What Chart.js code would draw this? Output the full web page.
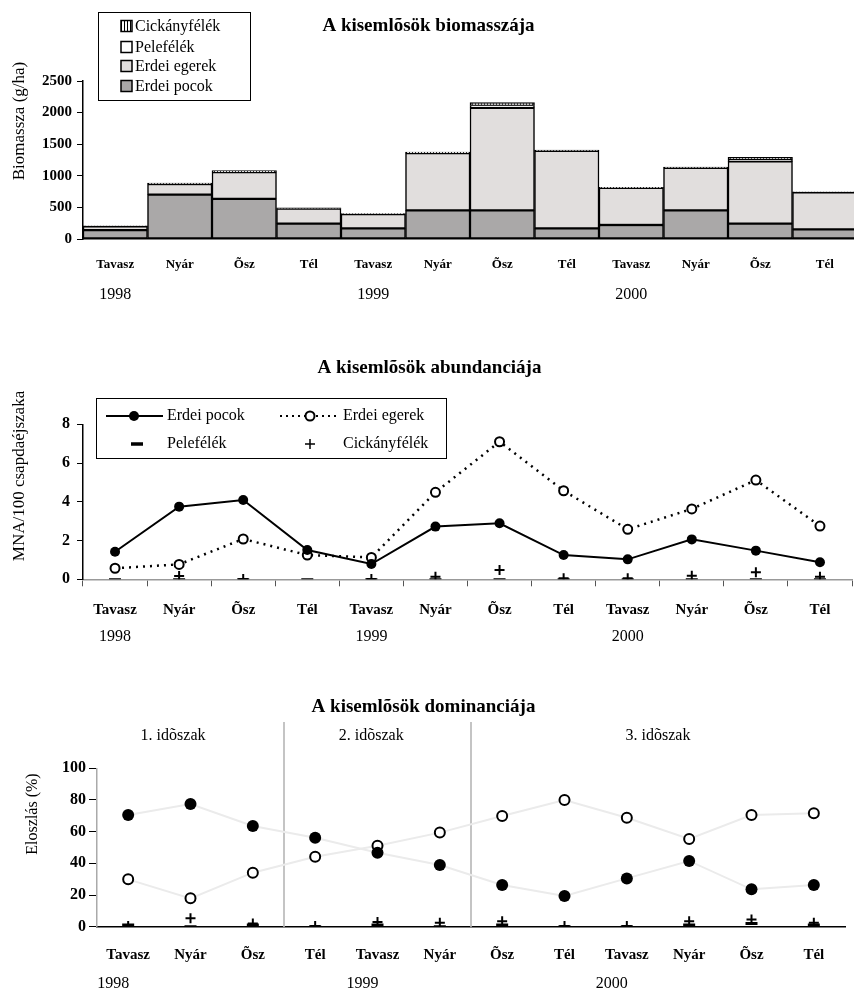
<!DOCTYPE html>
<html lang="hu">
<head>
<meta charset="UTF-8">
<title>A kisemlõsök biomasszája, abundanciája és dominanciája</title>
<script src="https://cdn.jsdelivr.net/npm/chart.js@4"></script>
<style>
  html, body { margin: 0; padding: 0; background: #fff; overflow: hidden; }
  .box { position: absolute; left: 0; }
</style>
</head>
<body>
<div class="box" style="top:0"><canvas id="biomassChart" width="860" height="315"></canvas></div>
<div class="box" style="top:315px"><canvas id="abundChart" width="860" height="335"></canvas></div>
<div class="box" style="top:650px"><canvas id="domChart" width="854" height="338"></canvas></div>
<script>
// évszakok és évek (x tengely)
var seasons = ['Tavasz', 'Nyár', 'Õsz', 'Tél', 'Tavasz', 'Nyár', 'Õsz', 'Tél', 'Tavasz', 'Nyár', 'Õsz', 'Tél'];
var years = ['1998', '', '', '', '1999', '', '', '', '2000', '', '', ''];

// biomassza (g/ha)
var bioPocok    = [140, 703, 635, 243, 168, 454, 454, 168, 222, 454, 243, 152];
var bioEgerek   = [60, 167, 423, 239, 225, 905, 1623, 1227, 588, 672, 986, 586];
var bioPele     = [0, 0, 0, 0, 0, 0, 35, 0, 0, 0, 25, 0];
var bioCickany  = [10, 15, 25, 10, 8, 15, 45, 10, 8, 10, 40, 8];

// abundancia (MNA/100 csapdaéjszaka)
var abPocok   = [1.42, 3.75, 4.09, 1.51, 0.79, 2.72, 2.89, 1.25, 1.03, 2.06, 1.48, 0.88];
var abEgerek  = [0.57, 0.77, 2.08, 1.25, 1.13, 4.49, 7.10, 4.57, 2.58, 3.63, 5.12, 2.75];
var abPele    = [0, 0, 0, 0, 0, 0, 0, 0, 0, 0, 0, 0];
var abCickany = [null, 0.17, 0.02, null, 0.02, 0.13, 0.48, 0.05, 0.05, 0.18, 0.36, 0.13];

// dominancia (%)
var domPocok   = [70.5, 77.5, 63.6, 56.2, 46.7, 39.0, 26.3, 19.4, 30.5, 41.5, 23.6, 26.3];
var domEgerek  = [29.9, 17.9, 34.1, 44.2, 51.1, 59.4, 69.9, 80.0, 68.8, 55.4, 70.5, 71.6];
var domPele    = [1, 0, 1, 0, 1, 0, 1, 0, 0, 1, 2, 1];
var domCickany = [0.5, 5.3, 2, 0.5, 3, 2.5, 3.5, 0.5, 0.5, 3.5, 4.5, 2.5];

var periodLabels = ['1. idõszak', '2. idõszak', '3. idõszak'];
var periodCenters = [0.72, 3.9, 8.5];   // kategória-index egységben
var periodBreaks = [2.5, 5.5];

var SERIF = "'Liberation Serif', 'Times New Roman', serif";

// szövegek kézi rajzolása (forgatott tengelycímek stb.)
var notesPlugin = {
    id: 'notes',
    afterDraw: function (chart, args, opts) {
        var ctx = chart.ctx;
        (opts.items || []).forEach(function (it) {
            ctx.save();
            ctx.font = it.font;
            ctx.fillStyle = '#000';
            ctx.textAlign = 'center';
            ctx.textBaseline = 'middle';
            ctx.translate(it.x, it.y);
            if (it.rotate) ctx.rotate(-Math.PI / 2);
            ctx.fillText(it.text, 0, 0);
            ctx.restore();
        });
    }
};

function stripePattern(canvasId) {
    var c = document.createElement('canvas');
    c.width = 3; c.height = 3;
    var g = c.getContext('2d');
    g.fillStyle = '#fff'; g.fillRect(0, 0, 3, 3);
    g.fillStyle = '#000'; g.fillRect(1, 0, 1, 3);
    return document.getElementById(canvasId).getContext('2d').createPattern(c, 'repeat');
}

var noGrid = { display: false, drawTicks: false };
var plainNum = function (v) { return String(v); };

// ---------- 1. biomassza ----------
var bioLegend = {
    id: 'bioLegend',
    afterDraw: function (chart) {
        var ctx = chart.ctx;
        ctx.save();
        ctx.strokeStyle = '#000';
        ctx.lineWidth = 1;
        ctx.strokeRect(98.5, 12.5, 152, 88);
        var rows = [26, 47, 66, 86];
        var ds = chart.data.datasets.slice().reverse();
        ds.forEach(function (d, i) {
            ctx.fillStyle = d.backgroundColor;
            ctx.fillRect(121, rows[i] - 5.5, 11, 11);
            ctx.lineWidth = 1.5;
            ctx.strokeRect(121, rows[i] - 5.5, 11, 11);
            ctx.fillStyle = '#000';
            ctx.font = '16px ' + SERIF;
            ctx.textAlign = 'left';
            ctx.textBaseline = 'middle';
            ctx.fillText(d.label, 135, rows[i] + 1);
        });
        ctx.restore();
    }
};

new Chart(document.getElementById('biomassChart'), {
    type: 'bar',
    data: {
        labels: seasons,
        datasets: [
            { label: 'Erdei pocok', data: bioPocok, backgroundColor: '#aaa8a8' },
            { label: 'Erdei egerek', data: bioEgerek, backgroundColor: '#e1dedd' },
            { label: 'Pelefélék', data: bioPele, backgroundColor: '#ffffff' },
            { label: 'Cickányfélék', data: bioCickany, backgroundColor: stripePattern('biomassChart') }
        ]
    },
    options: {
        responsive: false,
        animation: false,
        layout: { padding: { left: 0, right: 3, top: 0, bottom: 0 } },
        datasets: { bar: { barPercentage: 1, categoryPercentage: 1, borderColor: '#000', borderWidth: 1.5, borderSkipped: false } },
        scales: {
            x: {
                stacked: true,
                grid: noGrid,
                border: { display: true, color: '#000', width: 1.5 },
                ticks: { padding: 18.2, color: '#000', maxRotation: 0, autoSkip: false, font: { family: SERIF, size: 13, weight: 'bold' } },
                afterFit: function (s) { s.height = 34.8; }
            },
            x2: {
                type: 'category', labels: years, position: 'bottom', offset: true,
                grid: noGrid, border: { display: false },
                ticks: { padding: 11.6, color: '#000', maxRotation: 0, autoSkip: false, font: { family: SERIF, size: 16 } },
                afterFit: function (s) { s.height = 41.2; }
            },
            y: {
                stacked: true, min: 0, max: 2500,
                ticks: { stepSize: 500, padding: 5, color: '#000', callback: plainNum, font: { family: SERIF, size: 15, weight: 'bold' } },
                grid: { display: true, drawOnChartArea: false, drawTicks: true, tickLength: 6, color: '#000' },
                border: { color: '#000', width: 1.5 },
                afterFit: function (s) { s.width = 83; }
            }
        },
        plugins: {
            legend: { display: false },
            tooltip: { enabled: false },
            title: {
                display: true, text: 'A kisemlõsök biomasszája', color: '#000',
                font: { family: SERIF, size: 19, weight: 'bold' },
                padding: { top: 14.6, bottom: 43.6 }
            },
            notes: { items: [{ text: 'Biomassza (g/ha)', x: 20, y: 121, rotate: true, font: '17px ' + SERIF }] }
        }
    },
    plugins: [notesPlugin, bioLegend]
});

// ---------- 2. abundancia ----------
var abLegend = {
    id: 'abLegend',
    afterDraw: function (chart) {
        var ctx = chart.ctx;
        ctx.save();
        ctx.strokeStyle = '#000';
        ctx.fillStyle = '#000';
        ctx.lineWidth = 1;
        ctx.strokeRect(96.5, 83.5, 350, 60);
        var r1 = 101, r2 = 129;
        // Erdei pocok
        ctx.lineWidth = 2;
        ctx.beginPath(); ctx.moveTo(106, r1); ctx.lineTo(163, r1); ctx.stroke();
        ctx.beginPath(); ctx.arc(134, r1, 5, 0, Math.PI * 2); ctx.fill();
        // Erdei egerek
        ctx.setLineDash([2, 4]);
        ctx.beginPath(); ctx.moveTo(280, r1); ctx.lineTo(340, r1); ctx.stroke();
        ctx.setLineDash([]);
        ctx.fillStyle = '#fff';
        ctx.beginPath(); ctx.arc(310, r1, 4.5, 0, Math.PI * 2); ctx.fill(); ctx.stroke();
        ctx.fillStyle = '#000';
        // Pelefélék
        ctx.lineWidth = 3.5;
        ctx.beginPath(); ctx.moveTo(131, r2); ctx.lineTo(143, r2); ctx.stroke();
        // Cickányfélék
        ctx.lineWidth = 1.5;
        ctx.beginPath(); ctx.moveTo(305, r2); ctx.lineTo(315, r2); ctx.moveTo(310, r2 - 5); ctx.lineTo(310, r2 + 5); ctx.stroke();
        ctx.font = '16px ' + SERIF;
        ctx.textAlign = 'left';
        ctx.textBaseline = 'middle';
        ctx.fillText('Erdei pocok', 167, r1);
        ctx.fillText('Erdei egerek', 343, r1);
        ctx.fillText('Pelefélék', 167, r2);
        ctx.fillText('Cickányfélék', 343, r2);
        ctx.restore();
    }
};

new Chart(document.getElementById('abundChart'), {
    type: 'line',
    data: {
        labels: seasons,
        datasets: [
            { label: 'Erdei pocok', data: abPocok, borderColor: '#000', borderWidth: 2, pointRadius: 5, pointBackgroundColor: '#000', pointBorderColor: '#000', pointBorderWidth: 0 },
            { label: 'Erdei egerek', data: abEgerek, borderColor: '#000', borderWidth: 2.5, borderDash: [2, 5], pointRadius: 4.5, pointBackgroundColor: '#fff', pointBorderColor: '#000', pointBorderWidth: 2 },
            { label: 'Pelefélék', data: abPele, showLine: false, pointStyle: 'line', pointRadius: 6, pointBorderWidth: 2, pointBorderColor: '#000' },
            { label: 'Cickányfélék', data: abCickany, showLine: false, pointStyle: 'cross', pointRadius: 5, pointBorderWidth: 2, pointBorderColor: '#000' }
        ]
    },
    options: {
        responsive: false,
        animation: false,
        layout: { padding: { left: 0, right: 1, top: 0, bottom: 0 } },
        scales: {
            x: {
                offset: true,
                grid: { display: true, drawOnChartArea: false, drawTicks: true, tickLength: 7, offset: true, color: '#555' },
                border: { display: true, color: '#999', width: 1.5 },
                ticks: { padding: 14.7, color: '#000', maxRotation: 0, autoSkip: false, font: { family: SERIF, size: 15, weight: 'bold' } },
                afterFit: function (s) { s.height = 42; }
            },
            x2: {
                type: 'category', labels: years, position: 'bottom', offset: true,
                grid: noGrid, border: { display: false },
                ticks: { padding: 6.1, color: '#000', maxRotation: 0, autoSkip: false, font: { family: SERIF, size: 16 } },
                afterFit: function (s) { s.height = 28.7; }
            },
            y: {
                min: 0, max: 8,
                ticks: { stepSize: 2, padding: 7, color: '#000', font: { family: SERIF, size: 16, weight: 'bold' } },
                grid: { display: true, drawOnChartArea: false, drawTicks: true, tickLength: 6, color: '#000' },
                border: { color: '#000', width: 1.5 },
                afterFit: function (s) { s.width = 83; }
            }
        },
        plugins: {
            legend: { display: false },
            tooltip: { enabled: false },
            title: {
                display: true, text: 'A kisemlõsök abundanciája', color: '#000',
                font: { family: SERIF, size: 19, weight: 'bold' },
                padding: { top: 41.6, bottom: 44.9 }
            },
            notes: { items: [{ text: 'MNA/100 csapdaéjszaka', x: 20, y: 161, rotate: true, font: '17px ' + SERIF }] }
        }
    },
    plugins: [notesPlugin, abLegend]
});

// ---------- 3. dominancia ----------
var periodPlugin = {
    id: 'periods',
    beforeDatasetsDraw: function (chart) {
        var ctx = chart.ctx, xs = chart.scales.x, area = chart.chartArea;
        ctx.save();
        ctx.strokeStyle = '#c4c4c4';
        ctx.lineWidth = 2;
        periodBreaks.forEach(function (b) {
            var px = xs.getPixelForValue(b);
            ctx.beginPath(); ctx.moveTo(px, 72); ctx.lineTo(px, area.bottom); ctx.stroke();
        });
        ctx.fillStyle = '#000';
        ctx.font = '16px ' + SERIF;
        ctx.textAlign = 'center';
        ctx.textBaseline = 'middle';
        periodLabels.forEach(function (t, i) {
            ctx.fillText(t, xs.getPixelForValue(periodCenters[i]), 86);
        });
        ctx.restore();
    }
};

new Chart(document.getElementById('domChart'), {
    type: 'line',
    data: {
        labels: seasons,
        datasets: [
            { label: 'Erdei pocok', data: domPocok, borderColor: '#ebebeb', borderWidth: 2, pointRadius: 6, pointBackgroundColor: '#000', pointBorderColor: '#000', pointBorderWidth: 0 },
            { label: 'Erdei egerek', data: domEgerek, borderColor: '#ebebeb', borderWidth: 2, pointRadius: 5, pointBackgroundColor: '#fff', pointBorderColor: '#000', pointBorderWidth: 2 },
            { label: 'Pelefélék', data: domPele, showLine: false, pointStyle: 'line', pointRadius: 6, pointBorderWidth: 3, pointBorderColor: '#000' },
            { label: 'Cickányfélék', data: domCickany, showLine: false, pointStyle: 'cross', pointRadius: 5, pointBorderWidth: 2, pointBorderColor: '#000' }
        ]
    },
    options: {
        responsive: false,
        animation: false,
        layout: { padding: { left: 0, right: 7, top: 0, bottom: 0 } },
        scales: {
            x: {
                offset: true,
                grid: noGrid,
                border: { display: true, color: '#000', width: 1.5 },
                ticks: { padding: 19.3, color: '#000', maxRotation: 0, autoSkip: false, font: { family: SERIF, size: 15, weight: 'bold' } },
                afterFit: function (s) { s.height = 38.3; }
            },
            x2: {
                type: 'category', labels: years, position: 'bottom', offset: true,
                grid: noGrid, border: { display: false },
                ticks: { padding: 8.7, labelOffset: -15, color: '#000', maxRotation: 0, autoSkip: false, font: { family: SERIF, size: 16 } },
                afterFit: function (s) { s.height = 23; }
            },
            y: {
                min: 0, max: 100,
                ticks: { stepSize: 20, padding: 3, color: '#000', font: { family: SERIF, size: 16, weight: 'bold' } },
                grid: { display: true, drawOnChartArea: false, drawTicks: true, tickLength: 8, color: '#000' },
                border: { color: '#aaa', width: 1.5 },
                afterFit: function (s) { s.width = 97; }
            }
        },
        plugins: {
            legend: { display: false },
            tooltip: { enabled: false },
            title: {
                display: true, text: 'A kisemlõsök dominanciája', color: '#000',
                font: { family: SERIF, size: 19, weight: 'bold' },
                padding: { top: 45.3, bottom: 50.2 }
            },
            notes: { items: [{ text: 'Eloszlás (%)', x: 33, y: 164, rotate: true, font: '16px ' + SERIF }] }
        }
    },
    plugins: [notesPlugin, periodPlugin]
});
</script>
</body>
</html>
